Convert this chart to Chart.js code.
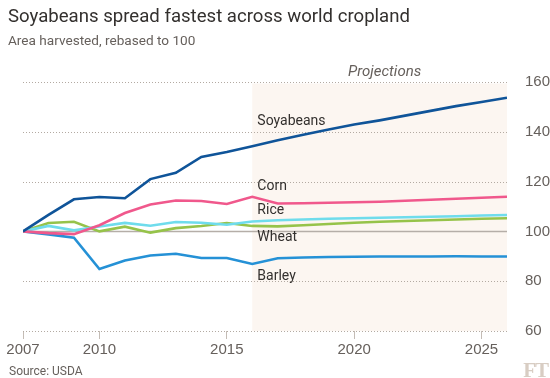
<!DOCTYPE html>
<html>
<head>
<meta charset="utf-8">
<script src="https://cdn.jsdelivr.net/npm/chart.js@4.4.1/dist/chart.umd.min.js"></script>
<style>
  body { margin: 0; background: #fff; }
  #wrap { position: relative; width: 550px; height: 378px; overflow: hidden; font-family: Roboto, sans-serif; }
  #chart { position: absolute; left: 0; top: 0; }
  .title { position: absolute; left: 8px; top: 5px; font-size: 18.6px; color: #33302e; white-space: nowrap; }
  .subtitle { position: absolute; left: 8px; top: 32px; font-size: 13.6px; color: #66605c; white-space: nowrap; }
  .source { position: absolute; left: 9px; top: 364px; font-size: 12px; color: #66605c; }
  .logo { position: absolute; right: 2px; top: 358px; font-family: "Liberation Serif", "DejaVu Serif", serif; font-weight: bold; font-size: 21px; color: #d8cdc3; letter-spacing: -1px; }
</style>
</head>
<body>
<div id="wrap">
  <canvas id="chart" width="550" height="378"></canvas>
  <div class="title">Soyabeans spread fastest across world cropland</div>
  <div class="subtitle">Area harvested, rebased to 100</div>
  <div class="source">Source: USDA</div>
  <div class="logo">FT</div>
</div>
<script>
const years = [2007, 2008, 2009, 2010, 2011, 2012, 2013, 2014, 2015, 2016,
               2017, 2018, 2019, 2020, 2021, 2022, 2023, 2024, 2025, 2026];
const soybeans = [100, 106.6, 112.9, 113.8, 113.3, 121.0, 123.5, 129.9, 131.9, 134.2,
                  136.6, 138.8, 140.9, 142.9, 144.6, 146.5, 148.4, 150.3, 152.0, 153.7];
const corn = [100, 99.3, 98.9, 102.5, 107.4, 110.8, 112.4, 112.2, 111.0, 113.9,
              111.2, 111.3, 111.5, 111.7, 111.9, 112.3, 112.7, 113.1, 113.5, 113.9];
const rice = [100, 102.2, 100.4, 102.0, 103.4, 102.3, 103.8, 103.5, 102.7, 104.0,
              104.5, 104.8, 105.1, 105.3, 105.5, 105.7, 105.9, 106.1, 106.4, 106.6];
const wheat = [100, 103.4, 103.9, 100.0, 101.9, 99.5, 101.3, 102.2, 103.4, 102.2,
               102.0, 102.5, 103.0, 103.5, 103.9, 104.2, 104.5, 104.8, 105.1, 105.3];
const barley = [100, 98.8, 97.5, 84.9, 88.3, 90.3, 91.0, 89.3, 89.3, 86.9,
                89.2, 89.5, 89.7, 89.8, 89.9, 89.9, 89.9, 90.0, 89.9, 89.9];
const xTicks = [2007, 2010, 2015, 2020, 2025];
const yTicks = [60, 80, 100, 120, 140, 160];
const projectionStart = 2016;

// label name, anchor year, anchor value
const seriesLabels = [
    ['Soyabeans', 2016.2, 144.2],
    ['Corn', 2016.2, 118.2],
    ['Rice', 2016.2, 108.2],
    ['Wheat', 2016.2, 97.4],
    ['Barley', 2016.2, 81.8]
];

const toPoints = vals => years.map((yr, i) => ({ x: yr, y: vals[i] }));

const extras = {
    id: 'extras',
    beforeDraw(chart) {
        const { ctx, chartArea, scales: { x, y } } = chart;
        // projections shading
        ctx.save();
        ctx.fillStyle = '#fcf6f1';
        const x0 = x.getPixelForValue(projectionStart);
        const top = y.getPixelForValue(160) + 1.5;
        ctx.fillRect(x0, top, chartArea.right - x0, chartArea.bottom - top);
        ctx.fillStyle = '#66605c';
        ctx.font = 'italic 15px Roboto, sans-serif';
        ctx.textAlign = 'center';
        ctx.textBaseline = 'middle';
        ctx.fillText('Projections', (x0 + chartArea.right) / 2 + 5, 72);
        ctx.restore();
    },
    beforeDatasetsDraw(chart) {
        const { ctx, chartArea, scales: { y } } = chart;
        // dotted gridlines, solid baseline at 100
        ctx.save();
        ctx.lineWidth = 1;
        yTicks.forEach(v => {
            const py = Math.round(y.getPixelForValue(v)) + 0.5;
            ctx.beginPath();
            if (v === 100) {
                ctx.setLineDash([]);
                ctx.strokeStyle = '#b5aea8';
                ctx.lineWidth = 1.5;
            } else {
                ctx.setLineDash([1, 2]);
                ctx.strokeStyle = '#b3aaa2';
                ctx.lineWidth = 1;
            }
            ctx.moveTo(chartArea.left, py);
            ctx.lineTo(chartArea.right, py);
            ctx.stroke();
        });
        ctx.restore();
    },
    afterDatasetsDraw(chart) {
        const { ctx, scales: { x, y } } = chart;
        ctx.save();
        ctx.fillStyle = '#33302e';
        ctx.font = '14px Roboto, sans-serif';
        ctx.textBaseline = 'middle';
        seriesLabels.forEach(([name, yr, v]) => {
            ctx.fillText(name, x.getPixelForValue(yr), y.getPixelForValue(v));
        });
        ctx.restore();
    }
};

const line = (label, vals, color) => ({
    label, data: toPoints(vals), borderColor: color, borderWidth: 2.6,
    pointRadius: 0, tension: 0, fill: false
});

new Chart(document.getElementById('chart'), {
    type: 'line',
    data: {
        datasets: [
            line('Soyabeans', soybeans, '#0f5499'),
            line('Corn', corn, '#f0588c'),
            line('Rice', rice, '#6fdcec'),
            line('Wheat', wheat, '#96c34a'),
            line('Barley', barley, '#2591d6')
        ]
    },
    options: {
        responsive: false,
        animation: false,
        layout: { padding: { top: 82, left: 23, right: 0, bottom: 0 } },
        plugins: { legend: { display: false }, tooltip: { enabled: false } },
        scales: {
            x: {
                type: 'linear', min: 2007, max: 2026,
                afterBuildTicks: s => { s.ticks = xTicks.map(v => ({ value: v })); },
                afterFit: s => { s.height = 47; },
                grid: { drawOnChartArea: false, drawTicks: true, tickLength: 8, tickColor: '#c4bcb5', tickWidth: 1 },
                border: { display: false },
                ticks: { color: '#66605c', font: { size: 15 }, padding: 2, maxRotation: 0, callback: v => String(v) }
            },
            y: {
                position: 'right', min: 60, max: 160,
                afterBuildTicks: s => { s.ticks = yTicks.map(v => ({ value: v })); },
                afterFit: s => { s.width = 43; },
                grid: { display: false },
                border: { display: false },
                ticks: { color: '#66605c', font: { size: 15 }, padding: 10 }
            }
        }
    },
    plugins: [extras]
});
</script>
</body>
</html>
